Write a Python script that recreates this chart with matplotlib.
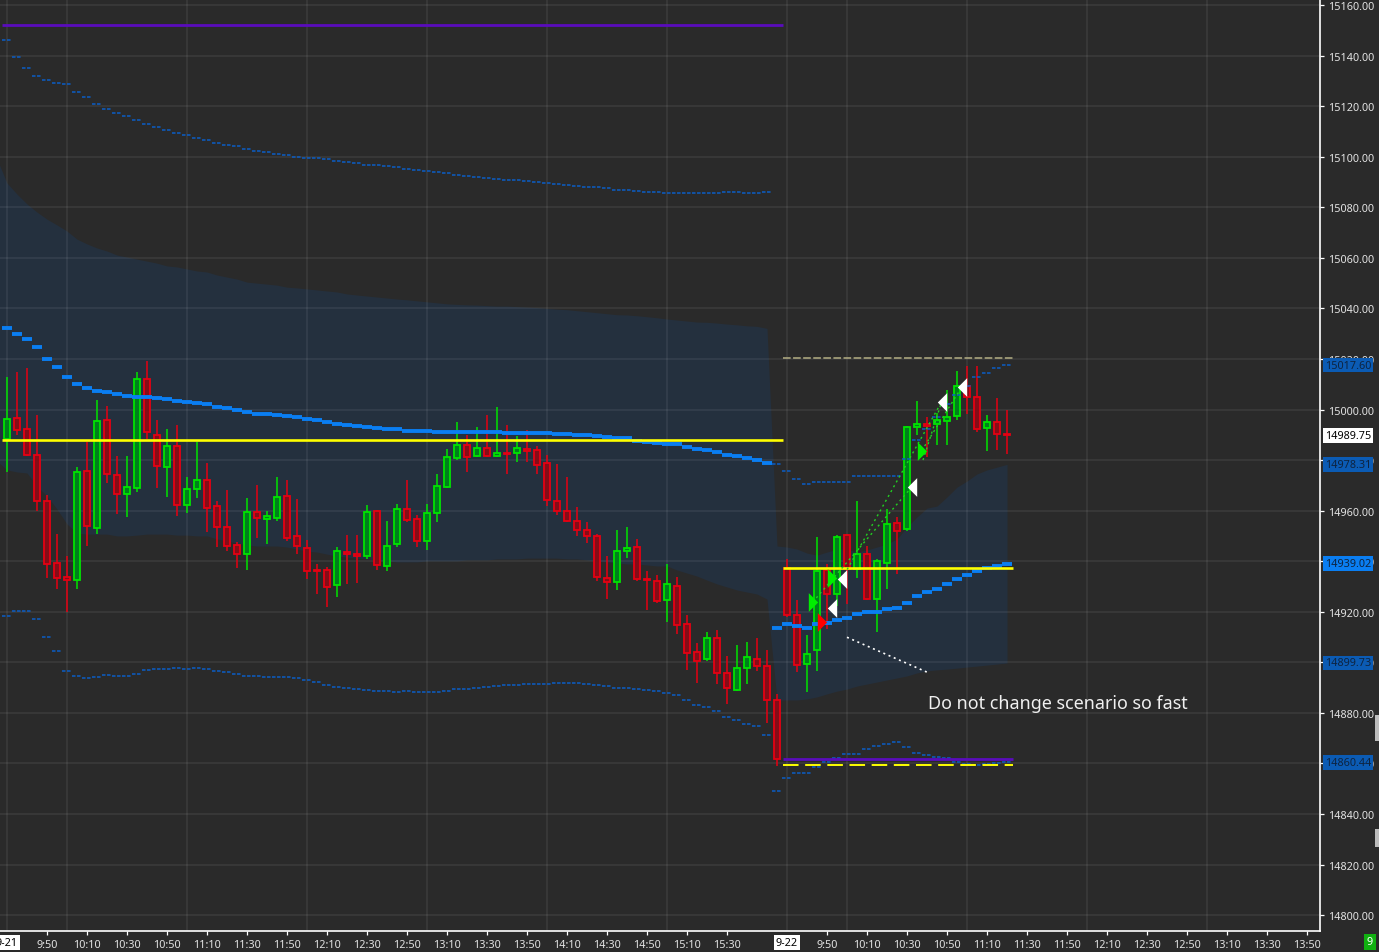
import numpy as np
import matplotlib.pyplot as plt
from matplotlib.ticker import MultipleLocator, FixedLocator

plt.rcParams['font.family'] = ['Noto Sans', 'DejaVu Sans']

# ---- data ----
# 5-minute bars, two sessions: 9-21 (bars 0..77) and 9-22 (bars 78..)
sessions = ['9-21', '9-22']
day1_bars = 78

opens = [14988.4, 14996.5, 14992.2, 14981.9, 14963.7, 14939.2, 14933.6, 14932.4, 14975.6, 14953.3,
         14995.7, 14974.0, 14966.5, 14968.8, 15012.0, 14989.8, 14977.1, 14985.5, 14962.1, 14968.4,
         14972.0, 14961.7, 14953.4, 14946.3, 14942.7, 14959.3, 14956.6, 14957.0, 14965.7, 14949.9,
         14945.1, 14936.4, 14936.4, 14930.5, 14943.5, 14942.7, 14941.9, 14959.7, 14938.0, 14946.7,
         14960.5, 14956.6, 14947.9, 14958.9, 14969.2, 14980.7, 14985.8, 14981.5, 14984.6, 14981.5,
         14982.8, 14982.7, 14984.2, 14983.8, 14978.7, 14963.7, 14959.7, 14955.8, 14952.2, 14949.8,
         14933.2, 14931.6, 14943.9, 14945.5, 14932.8, 14932.0, 14924.5, 14930.0, 14915.0, 14903.9,
         14901.2, 14909.5, 14895.6, 14888.9, 14897.6, 14901.2, 14898.4, 14884.9,
         14937.4, 14918.9, 14899.2, 14904.7, 14936.4, 14926.9, 14950.2, 14936.8, 14942.7, 14924.9,
         14939.1, 14955.3, 14952.6, 14992.9, 14994.1, 14994.1, 14995.3, 14997.3, 15009.2, 15004.8,
         14992.5, 14994.9, 14990.2]
highs = [15012.9, 15015.0, 15016.4, 14997.8, 14966.2, 14950.8, 14942.1, 14977.3, 14987.2, 15003.8,
         15001.4, 14981.6, 14981.6, 15014.9, 15019.0, 14995.9, 14992.3, 14993.9, 14973.3, 14987.2,
         14978.9, 14963.8, 14968.2, 14947.6, 14965.0, 14970.2, 14959.7, 14973.3, 14972.0, 14964.6,
         14948.3, 14938.9, 14937.6, 14945.8, 14950.5, 14950.5, 14962.4, 14960.4, 14955.9, 14962.6,
         14972.1, 14958.1, 14962.5, 14974.5, 14984.4, 14995.0, 14990.0, 14993.1, 14997.8, 15001.0,
         14993.9, 14989.5, 14991.9, 14985.4, 14981.9, 14978.3, 14973.3, 14961.4, 14955.4, 14950.6,
         14941.9, 14952.2, 14953.5, 14948.6, 14936.0, 14934.4, 14938.8, 14933.6, 14918.6, 14907.5,
         14911.8, 14912.6, 14902.4, 14906.7, 14907.9, 14909.5, 14904.7, 14887.3,
         14940.8, 14924.6, 14910.8, 14949.4, 14938.7, 14950.3, 14950.6, 14963.7, 14945.9, 14940.7,
         14960.5, 14957.3, 14993.5, 15003.2, 14996.9, 14998.5, 15007.6, 15015.2, 15017.1, 15017.1,
         14997.8, 15004.4, 14999.7]
lows = [14975.2, 14989.9, 14981.8, 14960.0, 14933.5, 14929.0, 14920.0, 14928.8, 14946.2, 14950.9,
        14971.1, 14958.8, 14957.6, 14967.5, 14988.4, 14969.1, 14965.5, 14958.0, 14959.2, 14964.8,
        14951.7, 14945.8, 14944.2, 14937.5, 14936.7, 14949.3, 14946.6, 14956.0, 14948.1, 14943.0,
        14933.1, 14927.2, 14922.0, 14926.0, 14931.1, 14931.5, 14941.0, 14936.7, 14936.3, 14945.8,
        14955.4, 14945.7, 14944.6, 14955.6, 14969.0, 14980.0, 14975.4, 14981.1, 14981.1, 14981.1,
        14974.6, 14979.1, 14979.1, 14974.6, 14962.0, 14958.4, 14955.4, 14949.8, 14947.3, 14932.0,
        14925.1, 14928.7, 14941.4, 14932.0, 14920.5, 14923.3, 14916.1, 14911.3, 14896.8, 14891.9,
        14900.4, 14891.3, 14883.4, 14888.5, 14891.3, 14896.4, 14875.8, 14859.0,
        14918.0, 14896.3, 14888.1, 14896.7, 14913.0, 14922.1, 14922.9, 14933.5, 14924.5, 14911.8,
        14928.9, 14934.8, 14952.0, 14989.8, 14981.1, 14986.1, 14986.1, 14996.0, 14998.1, 14991.0,
        14983.7, 14984.1, 14982.3]
closes = [14996.1, 14991.9, 14981.9, 14963.7, 14938.8, 14933.2, 14932.6, 14975.2, 14953.8, 14995.3,
          14974.4, 14966.5, 14969.2, 15012.0, 14991.0, 14977.5, 14985.5, 14962.1, 14968.4, 14972.0,
          14960.9, 14953.4, 14945.9, 14942.7, 14959.3, 14957.0, 14957.8, 14965.3, 14949.1, 14945.9,
          14936.0, 14936.0, 14929.7, 14943.9, 14942.7, 14941.9, 14959.3, 14938.4, 14945.9, 14960.5,
          14956.2, 14947.9, 14958.9, 14969.6, 14981.1, 14985.8, 14981.1, 14984.6, 14981.5, 14982.7,
          14982.3, 14984.6, 14983.4, 14977.9, 14964.1, 14959.7, 14955.8, 14952.2, 14949.8, 14933.6,
          14931.6, 14943.9, 14945.1, 14932.8, 14932.4, 14924.1, 14930.8, 14914.6, 14903.5, 14900.4,
          14909.5, 14895.6, 14889.7, 14897.6, 14902.0, 14898.4, 14884.9, 14861.6,
          14918.9, 14898.8, 14903.1, 14936.0, 14926.9, 14949.4, 14936.8, 14942.7, 14924.9, 14939.9,
          14954.6, 14951.8, 14992.9, 14994.1, 14993.5, 14995.7, 14996.9, 15009.2, 15004.8, 14992.1,
          14994.9, 14990.2, 14989.75]

# session VWAP (day-2 values start on bar 77)
vwap = [15032.2, 15029.9, 15027.9, 15024.7, 15020.0, 15016.8, 15012.8, 15010.1, 15008.5, 15007.3,
        15006.9, 15006.1, 15005.3, 15004.9, 15004.9, 15004.5, 15004.1, 15003.4, 15003.0, 15002.6,
        15002.2, 15001.0, 15000.6, 14999.8, 14999.0, 14998.2, 14998.2, 14997.8, 14997.4, 14997.0,
        14996.2, 14995.8, 14995.0, 14994.3, 14993.9, 14993.5, 14993.1, 14992.7, 14992.2, 14992.2,
        14991.6, 14991.4, 14991.4, 14991.0, 14991.0, 14991.0, 14991.0, 14991.0, 14991.0, 14991.0,
        14990.6, 14990.6, 14990.6, 14990.6, 14990.6, 14990.2, 14990.2, 14989.8, 14989.8, 14989.4,
        14989.0, 14988.6, 14988.6, 14987.4, 14987.3, 14986.9, 14986.3, 14986.2, 14985.0, 14984.2,
        14983.9, 14983.1, 14981.9, 14981.5, 14980.7, 14979.9, 14978.7,
        14913.4, 14915.0, 14914.2, 14913.4, 14915.0, 14915.4, 14916.6, 14917.4, 14919.0, 14919.8,
        14919.8, 14921.0, 14921.4, 14923.3, 14926.1, 14927.7, 14928.9, 14930.8, 14932.8, 14934.4,
        14936.0, 14937.2, 14938.0, 14939.02]

# shaded band, bars -1..100
band_upper = [15099.1,
              15089.6, 15085.2, 15081.3, 15078.1, 15075.3, 15073.0, 15070.6, 15067.4, 15065.5, 15063.9,
              15062.7, 15061.1, 15060.3, 15059.5, 15058.7, 15057.9, 15056.8, 15056.4, 15055.6, 15054.8,
              15054.4, 15053.2, 15052.4, 15051.6, 15050.4, 15050.0, 15049.6, 15049.2, 15048.4, 15048.1,
              15047.7, 15047.3, 15046.9, 15046.5, 15045.7, 15045.3, 15044.9, 15044.5, 15044.1, 15043.7,
              15043.4, 15043.0, 15042.6, 15042.2, 15041.8, 15041.6, 15041.4, 15041.3, 15041.1, 15040.9,
              15040.9, 15040.7, 15040.5, 15040.3, 15040.0, 15039.7, 15039.5, 15039.1, 15038.7, 15038.3,
              15037.9, 15037.5, 15037.4, 15037.1, 15036.7, 15036.3, 15035.8, 15035.4, 15035.0, 15034.6,
              15034.5, 15034.2, 15033.8, 15033.5, 15033.1, 15032.9, 15032.1,
              14946.0, 14945.6, 14944.8, 14943.2, 14942.4, 14943.6, 14944.8, 14944.8, 14943.6, 14944.4,
              14945.6, 14946.8, 14948.8, 14953.5, 14957.5, 14961.0, 14961.8, 14965.4, 14969.3, 14971.7,
              14974.5, 14976.1, 14977.2, 14978.31]
band_lower = [14979.6,
              14976.1, 14975.3, 14974.9, 14969.7, 14965.8, 14960.6, 14954.7, 14951.1, 14950.7, 14950.7,
              14950.7, 14950.0, 14950.0, 14950.3, 14950.7, 14950.7, 14950.7, 14950.3, 14950.3, 14950.0,
              14950.0, 14948.8, 14948.0, 14947.2, 14946.4, 14946.0, 14946.0, 14946.0, 14945.6, 14944.8,
              14944.0, 14943.6, 14942.8, 14942.0, 14941.6, 14941.2, 14940.9, 14940.5, 14940.1, 14939.7,
              14939.7, 14939.7, 14940.1, 14940.1, 14940.1, 14940.1, 14940.5, 14940.5, 14940.5, 14940.9,
              14940.9, 14940.9, 14941.2, 14941.2, 14941.2, 14941.2, 14940.9, 14940.9, 14940.5, 14940.1,
              14939.7, 14939.3, 14938.9, 14938.9, 14938.5, 14938.1, 14938.1, 14936.5, 14935.3, 14934.1,
              14932.5, 14931.0, 14929.8, 14928.6, 14927.8, 14927.0, 14925.0,
              14885.1, 14885.1, 14885.1, 14885.5, 14886.3, 14887.5, 14888.6, 14889.4, 14890.6, 14891.4,
              14892.2, 14893.0, 14893.8, 14894.6, 14895.8, 14896.6, 14897.0, 14897.3, 14897.7, 14898.1,
              14898.5, 14898.9, 14899.3, 14899.73]

# thin dashed outer bands, bars 0..100
outer_upper = [15146.2, 15139.4, 15135.1, 15131.9, 15130.3, 15129.1, 15128.7, 15125.6, 15123.6, 15120.8,
               15118.9, 15117.3, 15116.1, 15114.5, 15112.9, 15111.7, 15110.6, 15109.4, 15108.6, 15107.4,
               15106.6, 15105.4, 15104.6, 15104.2, 15103.0, 15102.2, 15101.9, 15101.1, 15100.7, 15099.9,
               15099.5, 15099.5, 15099.1, 15098.3, 15097.9, 15097.5, 15096.7, 15096.7, 15096.3, 15095.9,
               15095.1, 15094.7, 15094.3, 15093.9, 15093.5, 15092.8, 15092.4, 15092.0, 15091.6, 15091.2,
               15090.8, 15090.8, 15090.4, 15090.0, 15089.6, 15089.2, 15088.8, 15088.4, 15088.0, 15088.0,
               15087.6, 15086.8, 15086.8, 15086.4, 15086.0, 15086.0, 15085.6, 15085.6, 15085.6, 15085.6,
               15085.6, 15085.6, 15086.0, 15086.0, 15085.6, 15085.6, 15086.0,
               14978.4, 14975.7, 14972.5, 14970.5, 14971.3, 14971.3, 14971.3, 14971.3, 14973.7, 14973.7,
               14973.7, 14973.7, 14973.7, 14980.4, 14987.9, 14992.3, 14997.0, 15002.2, 15005.7, 15009.3,
               15012.8, 15014.4, 15016.4, 15017.60]
outer_lower = [14918.3, 14920.3, 14920.3, 14917.1, 14910.0, 14904.5, 14896.6, 14894.6, 14893.8, 14894.2,
               14895.0, 14894.6, 14894.6, 14895.4, 14897.0, 14897.3, 14897.3, 14897.7, 14897.3, 14897.7,
               14897.3, 14896.6, 14896.2, 14895.4, 14894.6, 14894.6, 14894.2, 14894.2, 14894.2, 14893.8,
               14893.0, 14892.2, 14891.0, 14890.2, 14889.8, 14889.4, 14889.0, 14888.6, 14888.6, 14888.2,
               14888.6, 14888.2, 14888.2, 14888.2, 14888.6, 14889.4, 14889.4, 14889.8, 14890.2, 14890.6,
               14891.0, 14891.0, 14891.4, 14891.4, 14891.4, 14891.8, 14891.8, 14891.8, 14891.4, 14891.0,
               14890.6, 14889.8, 14889.8, 14889.4, 14889.0, 14888.6, 14887.8, 14887.1, 14885.1, 14883.1,
               14882.3, 14880.7, 14878.4, 14877.2, 14875.6, 14874.8, 14871.2,
               14849.1, 14854.2, 14856.2, 14856.2, 14858.6, 14860.6, 14862.1, 14863.7, 14863.7, 14865.7,
               14866.9, 14867.7, 14868.5, 14866.5, 14864.1, 14863.3, 14862.5, 14862.1, 14860.6, 14859.8,
               14859.4, 14859.8, 14860.2, 14860.44]

# horizontal levels per session
yellow_levels = [14988.0, 14937.4]
purple_levels = [15152.1, 14861.7]
day2_low_dash = 14859.25
day2_high_dash = 15020.4

# trade signals
long_x, long_y = [80.57, 82.47, 91.47], [14923.8, 14933.3, 14983.7]
short_x, short_y = [81.47], [14916.1]
exit_x = [82.47, 83.47, 90.47, 93.47, 95.47]
exit_y = [14921.5, 14932.9, 14969.3, 15003.1, 15008.8]
trade_from = [(80.57, 14923.8), (83.47, 14932.9), (91.47, 14983.7), (91.6, 14980.0)]
trade_to = [(90.47, 14969.3), (93.47, 15003.1), (95.47, 15008.8), (93.47, 15003.1)]
note_from, note_to = (84.0, 14909.9), (92.0, 14896.1)
note_text = 'Do not change scenario so fast'
note_pos = (92.1, 14881.9)

time_labels_day1 = ['9:50', '10:10', '10:30', '10:50', '11:10', '11:30', '11:50', '12:10', '12:30',
                    '12:50', '13:10', '13:30', '13:50', '14:10', '14:30', '14:50', '15:10', '15:30']
time_labels_day2 = ['9:50', '10:10', '10:30', '10:50', '11:10', '11:30', '11:50', '12:10', '12:30',
                    '12:50', '13:10', '13:30', '13:50']

last_price = 14989.75
price_tags = [(15017.60, 'dark'), (14989.75, 'last'), (14978.31, 'dark'),
              (14939.02, 'vwap'), (14899.73, 'dark'), (14860.44, 'dark')]

# ---- style ----
BG = '#2a2a2a'
BAND = '#24303e'
UP_EDGE, UP_FILL = '#00e400', '#00801c'
DN_EDGE, DN_FILL = '#e60012', '#850d18'
VWAP_C = '#0a7ef2'
DASH_C = '#0b5ec6'
TXT = '#e2e2e2'


def bar_of(label, day):
    hh, mm = label.split(':')
    return day * day1_bars + (int(hh) * 60 + int(mm) - 570) / 5


fig = plt.figure(figsize=(13.79, 9.53), dpi=100, facecolor=BG)
ax = fig.add_axes([0, 21 / 953, 1320 / 1379, 932 / 953])
ax.set_facecolor(BG)
ax.set_xlim(-0.7, 131.3)
ax.set_ylim(14793.7, 15162.4)

n = len(opens)
idx = np.arange(n)

# band
ax.fill_between(np.arange(-1, n), band_lower, band_upper, color=BAND, lw=0, zorder=1)

# grid
ax.set_axisbelow('line')
ax.xaxis.set_minor_locator(MultipleLocator(6))
ax.grid(True, which='minor', axis='x', color='white', alpha=0.07, lw=1.3)
ax.grid(True, which='major', axis='y', color='white', alpha=0.07, lw=1.3)

# candles
o, h, l, c = (np.array(v) for v in (opens, highs, lows, closes))
up = c >= o
edge = np.where(up, UP_EDGE, DN_EDGE)
fill = np.where(up, UP_FILL, DN_FILL)
ax.vlines(idx, l, h, colors=edge, lw=1.1, zorder=3)
ax.bar(idx, np.maximum(np.abs(c - o), 0.5), bottom=np.minimum(o, c), width=0.62,
       color=fill, edgecolor=edge, lw=1.3, zorder=4)

# indicators
ax.hlines(vwap, np.arange(len(vwap)) - 0.5, np.arange(len(vwap)) + 0.5,
          colors=VWAP_C, lw=2.8, zorder=6)
for series in (outer_upper, outer_lower):
    ax.hlines(series, idx - 0.5, idx + 0.5, colors=DASH_C, lw=1.1,
              linestyles=(0, (2.3, 1.0)), zorder=5)

spans = [(-0.5, day1_bars - 0.4), (day1_bars - 0.4, n - 0.45)]
for lev, (a, b) in zip(purple_levels, spans):
    ax.hlines(lev, a, b, colors='#5a0cbc', lw=2.0, zorder=6)
for lev, (a, b) in zip(yellow_levels, spans):
    ax.hlines(lev, a, b, colors='#ffff00', lw=1.9, zorder=7)
a, b = spans[1]
ax.hlines(day2_low_dash, a, b, colors='#ffff00', lw=1.4, linestyles=(0, (8, 3.4)), zorder=6)
ax.hlines(day2_high_dash, a, b, colors='#b4ae84', lw=1.1, linestyles=(0, (5, 1.6)), zorder=6)

# trades
for (x0, y0), (x1, y1) in zip(trade_from, trade_to):
    ax.plot([x0, x1], [y0, y1], color='#22d022', lw=1.0, ls=(0, (1.5, 2.5)), zorder=8)
ax.plot([note_from[0], note_to[0]], [note_from[1], note_to[1]], color='white', lw=1.2,
        ls=(0, (1.2, 2.2)), zorder=8)

tri_r = [(-0.25, -0.5), (0.25, 0), (-0.25, 0.5)]
tri_l = [(0.25, -0.5), (-0.25, 0), (0.25, 0.5)]
ax.plot(long_x, long_y, ls='none', marker=tri_r, ms=13.5, color='#00ee00', mew=0, zorder=9)
ax.plot(short_x, short_y, ls='none', marker=tri_r, ms=13.5, color='#ff0000', mew=0, zorder=9)
ax.plot(exit_x, exit_y, ls='none', marker=tri_l, ms=13.5, color='white', mew=0, zorder=9)

ax.text(note_pos[0], note_pos[1], note_text, color='#f0f0f0', fontsize=12.9,
        ha='left', va='baseline', zorder=9)

# axes styling
for s in ('top', 'left'):
    ax.spines[s].set_visible(False)
for s in ('right', 'bottom'):
    ax.spines[s].set_color('white')
    ax.spines[s].set_linewidth(1.2)

ax.yaxis.tick_right()
ax.set_yticks(np.arange(14800, 15161, 20))
ax.set_yticklabels([f'{v:.2f}' for v in np.arange(14800, 15161, 20)])
ax.tick_params(axis='y', colors='white', labelcolor=TXT, labelsize=7.8, length=3, width=0.9, pad=2.5)

xt = [bar_of(t, 0) for t in time_labels_day1] + [bar_of(t, 1) for t in time_labels_day2]
ax.xaxis.set_major_locator(FixedLocator(xt))
ax.set_xticklabels(time_labels_day1 + time_labels_day2)
ax.tick_params(axis='x', which='major', colors='white', labelcolor=TXT, labelsize=7.8,
               length=3, width=0.9, pad=3)
ax.tick_params(axis='x', which='minor', length=0)

xf = ax.get_xaxis_transform()
for k, d in enumerate(sessions):
    ax.text(k * day1_bars, -0.0125, d, transform=xf, ha='center', va='center', fontsize=7.8,
            color='black', clip_on=False,
            bbox=dict(boxstyle='square,pad=0.2', fc='white', ec='none'))

yf = ax.get_yaxis_transform()
tag_styles = {'dark': ('#0b5bb4', '#0e2440'), 'vwap': ('#0a7ef2', '#0e2440'),
              'last': ('white', 'black')}
for val, kind in price_tags:
    fc, tc = tag_styles[kind]
    ax.text(1.0035, val, f'{val:.2f}', transform=yf, ha='left', va='center', fontsize=7.8,
            color=tc, clip_on=False, zorder=10,
            bbox=dict(boxstyle='square,pad=0.18', fc=fc, ec='none'))

fig.text(1370 / 1379, 1 - 943 / 953, '9', ha='center', va='center', fontsize=7.8, color='white',
         bbox=dict(boxstyle='square,pad=0.25', fc='#10b010', ec='none'))
fig.patches.append(plt.Rectangle((1375 / 1379, 1 - 742 / 953), 4 / 1379, 26 / 953,
                                 transform=fig.transFigure, fc='#bcbcbc', ec='none'))
fig.patches.append(plt.Rectangle((1375 / 1379, 1 - 848 / 953), 4 / 1379, 18 / 953,
                                 transform=fig.transFigure, fc='#bcbcbc', ec='none'))

fig.savefig('out.png', dpi=100, facecolor=BG)
